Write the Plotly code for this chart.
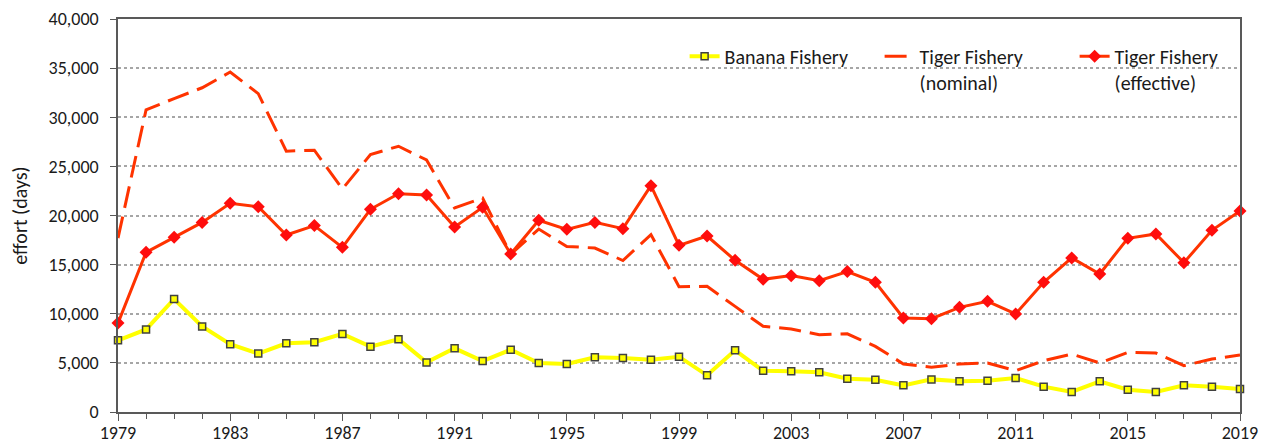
import plotly.graph_objects as go

years = list(range(1979, 2020))

banana = [7300, 8400, 11500, 8700, 6900, 5950, 6990, 7100, 7950, 6650, 7400, 5050,
          6480, 5190, 6340, 4990, 4890, 5560, 5500, 5330, 5630, 3730, 6280, 4200,
          4140, 4040, 3390, 3290, 2710, 3320, 3120, 3190, 3460, 2580, 2040, 3120,
          2270, 2040, 2710, 2580, 2340]

tiger_nominal = [17700, 30750, 31900, 33000, 34600, 32400, 26550, 26650, 22700, 26200, 27050, 25650,
                 20760, 21780, 16050, 18620, 16850, 16690, 15420, 18050, 12760, 12790, 10750, 8720,
                 8450, 7870, 7960, 6680, 4890, 4550, 4890, 4990, 4210, 5220, 5900, 4990,
                 6070, 6000, 4720, 5390, 5800]

tiger_effective = [9050, 16250, 17780, 19300, 21240, 20900, 18020, 18970, 16760, 20630, 22220, 22090,
                   18830, 20830, 16080, 19510, 18590, 19300, 18660, 23040, 16960, 17910, 15440, 13500,
                   13880, 13370, 14290, 13200, 9570, 9500, 10650, 11270, 9980, 13200, 15680, 14050,
                   17680, 18120, 15200, 18490, 20460]

x_tickvals = list(range(1979, 2020, 4))
y_tickvals = list(range(0, 40001, 5000))

FONT = "Carlito, Lato, sans-serif"
TXT = "#1a1a1a"
AXIS_COLOR = "#595959"
RED = "#FF3300"

fig = go.Figure()

fig.add_trace(go.Scatter(
    x=years, y=banana, name="Banana Fishery", mode="lines+markers",
    line=dict(color="#FFFF00", width=4),
    marker=dict(symbol="square", size=7, color="#FFFF00", line=dict(color="#404040", width=1.5)),
    cliponaxis=False,
))
fig.add_trace(go.Scatter(
    x=years, y=tiger_nominal, name="Tiger Fishery<br>(nominal)", mode="lines",
    line=dict(color=RED, width=3, dash="22px,9px"),
    cliponaxis=False,
))
fig.add_trace(go.Scatter(
    x=years, y=tiger_effective, name="Tiger Fishery<br>(effective)", mode="lines+markers",
    line=dict(color=RED, width=3),
    marker=dict(symbol="diamond", size=10, color="#FF0D0D"),
    cliponaxis=False,
))

fig.update_layout(
    width=1265, height=435,
    margin=dict(l=110, r=33, t=11, b=31, autoexpand=False),
    paper_bgcolor="white", plot_bgcolor="white",
    font=dict(family=FONT, size=18, color=TXT),
    showlegend=True,
    legend=dict(
        orientation="h", x=0.505, xanchor="left", y=0.955, yanchor="top",
        bgcolor="rgba(0,0,0,0)", font=dict(family=FONT, size=20, color=TXT),
        valign="top", traceorder="normal", entrywidth=150, entrywidthmode="pixels",
    ),
    xaxis=dict(
        range=[1979, 2019], tickvals=x_tickvals, ticktext=[str(v) for v in x_tickvals],
        showgrid=False, zeroline=False, automargin=False,
        showline=True, linecolor=AXIS_COLOR, linewidth=1.5, mirror=True,
        ticks="outside", ticklen=7, tickwidth=1.2, tickcolor=AXIS_COLOR,
        ticklabelstandoff=-3,
        minor=dict(dtick=1, tick0=1979, ticks="outside", ticklen=5, tickwidth=1.2,
                   tickcolor=AXIS_COLOR, showgrid=False),
        tickfont=dict(family=FONT, size=18, color=TXT),
    ),
    yaxis=dict(
        range=[0, 40000], tickvals=y_tickvals, tickformat=",d",
        showgrid=True, gridcolor="#A6A6A6", gridwidth=1.5, griddash="dot",
        zeroline=False, automargin=False,
        showline=True, linecolor=AXIS_COLOR, linewidth=1.5, mirror=True,
        ticks="outside", ticklen=6, tickwidth=1.2, tickcolor=AXIS_COLOR,
        ticklabelstandoff=8,
        tickfont=dict(family=FONT, size=18, color=TXT),
        title=dict(text="effort (days)", font=dict(family=FONT, size=20, color=TXT), standoff=37),
    ),
    xaxis2=dict(
        overlaying="x", anchor="y", side="bottom", range=[1979, 2019], automargin=False,
        tickvals=years, showticklabels=False, ticks="inside", ticklen=5, tickwidth=1.2,
        tickcolor=AXIS_COLOR, showgrid=False, zeroline=False, showline=False,
    ),
    yaxis2=dict(
        overlaying="y", anchor="x", side="left", range=[0, 40000], automargin=False,
        tickvals=y_tickvals, showticklabels=False, ticks="inside", ticklen=6, tickwidth=1.2,
        tickcolor=AXIS_COLOR, showgrid=False, zeroline=False, showline=False,
    ),
)

fig.write_html("out.html")
